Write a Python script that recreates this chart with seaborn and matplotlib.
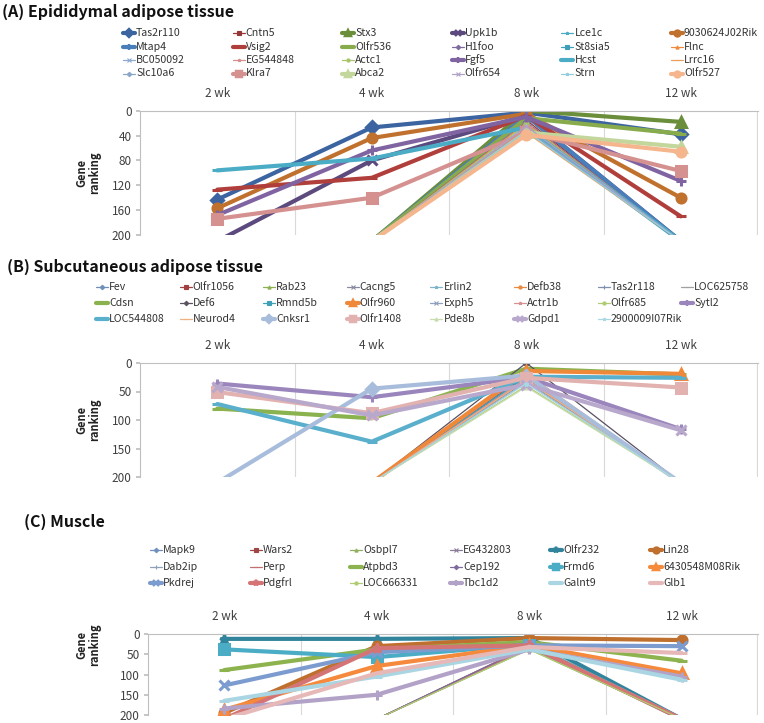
import numpy as np
import matplotlib
matplotlib.use("Agg")
import matplotlib.pyplot as plt
from matplotlib.lines import Line2D
import seaborn as sns

# -----------------------------
# Data (gene ranking; NR = not in the top 200, drawn off the bottom)
# -----------------------------
NR = 210
weeks = ["2 wk", "4 wk", "8 wk", "12 wk"]

a_genes = ["Tas2r110", "Cntn5", "Stx3", "Upk1b", "Lce1c", "9030624J02Rik",
           "Mtap4", "Vsig2", "Olfr536", "H1foo", "St8sia5", "Flnc",
           "BC050092", "EG544848", "Actc1", "Fgf5", "Hcst", "Lrrc16",
           "Slc10a6", "Klra7", "Abca2", "Olfr654", "Strn", "Olfr527"]
a_ranks = [[143, 27, 3, 38], [NR, NR, 15, NR], [NR, NR, 0, 18], [NR, 80, 8, NR],
           [NR, NR, 30, NR], [157, 44, 5, 140], [NR, NR, 8, NR], [127, 108, 8, 170],
           [NR, NR, 12, 37], [NR, NR, 18, NR], [NR, NR, 25, NR], [NR, NR, 20, NR],
           [NR, NR, 32, NR], [NR, NR, 28, NR], [NR, NR, 22, NR], [168, 64, 10, 113],
           [96, 77, 27, NR], [NR, NR, 35, NR], [NR, NR, 30, NR], [174, 140, 35, 97],
           [NR, NR, 35, 58], [NR, NR, 25, NR], [NR, NR, 33, NR], [NR, NR, 39, 66]]
a_colors = ["#3B64A0", "#953735", "#6B8E3A", "#5C4A7E", "#4BACC6", "#C0712D",
            "#4A7EBB", "#B03F3C", "#88AB4C", "#7F6A9E", "#3F9FB8", "#F08A3C",
            "#8DA9D0", "#D48F8D", "#A9C46A", "#8064A2", "#4BACC6", "#E8A060",
            "#8AA6C8", "#D49190", "#C3D69B", "#B0A2C8", "#93CDDD", "#F6B68D"]
a_thick = [1, 0, 1, 1, 0, 1, 1, 1, 1, 0, 0, 0, 0, 0, 0, 1, 1, 0, 0, 1, 1, 0, 0, 1]

b_genes = ["Fev", "Olfr1056", "Rab23", "Cacng5", "Erlin2", "Defb38", "Tas2r118", "LOC625758",
           "Cdsn", "Def6", "Rmnd5b", "Olfr960", "Exph5", "Actr1b", "Olfr685", "Sytl2",
           "LOC544808", "Neurod4", "Cnksr1", "Olfr1408", "Pde8b", "Gdpd1", "2900009I07Rik"]
b_ranks = [[NR, NR, 28, NR], [NR, NR, 22, NR], [NR, NR, 30, NR], [NR, NR, 20, NR],
           [NR, NR, 25, NR], [NR, NR, 18, NR], [NR, NR, 32, NR], [NR, NR, 30, NR],
           [80, 97, 10, 20], [NR, NR, 0, NR], [NR, NR, 24, NR], [NR, NR, 14, 19],
           [NR, NR, 35, NR], [NR, NR, 28, NR], [NR, NR, 40, NR], [36, 60, 25, 116],
           [72, 138, 24, 26], [NR, NR, 30, NR], [NR, 45, 22, NR], [51, 88, 26, 43],
           [NR, NR, 42, NR], [42, 92, 38, 118], [NR, NR, 36, NR]]
b_colors = ["#6F8FB8", "#A04040", "#8DB050", "#8A8AA0", "#7FB5C8", "#E88A40", "#7F8FB0", "#A0A0A0",
            "#8AB34F", "#5A5060", "#3FA0B8", "#F0883A", "#8FA0C0", "#D89090", "#B0CC70", "#9A86BC",
            "#5AB0CC", "#F0B080", "#A8BCDC", "#E2B2B0", "#C8DCB0", "#B8A8CC", "#A8D8E4"]
b_thick = [0, 0, 0, 0, 0, 0, 0, 0, 1, 0, 0, 1, 0, 0, 0, 1, 1, 0, 1, 1, 0, 1, 0]

c_genes = ["Mapk9", "Wars2", "Osbpl7", "EG432803", "Olfr232", "Lin28",
           "Dab2ip", "Perp", "Atpbd3", "Cep192", "Frmd6", "6430548M08Rik",
           "Pkdrej", "Pdgfrl", "LOC666331", "Tbc1d2", "Galnt9", "Glb1"]
c_ranks = [[NR, NR, 36, NR], [NR, NR, 30, NR], [NR, NR, 38, NR], [NR, NR, 32, NR],
           [12, 12, 10, NR], [195, 30, 10, 15], [NR, NR, 36, NR], [NR, NR, 34, NR],
           [89, 38, 20, 66], [NR, NR, 30, NR], [38, 57, 26, NR], [187, 79, 28, 97],
           [127, 45, 28, 30], [NR, 35, 28, NR], [NR, NR, 38, NR], [184, 150, 38, 105],
           [165, 105, 38, 113], [NR, 97, 32, 47]]
c_colors = ["#6F8FBF", "#A04444", "#90B060", "#8A7F9A", "#31849B", "#C0702E",
            "#8FA0B8", "#C07070", "#8DB34F", "#7F6A9E", "#4BACC6", "#F58A3C",
            "#7C9CCF", "#D47474", "#B0CC70", "#B3A2C7", "#A9D6E2", "#E6B9B8"]
c_thick = [0, 0, 0, 0, 1, 1, 0, 0, 1, 0, 1, 1, 1, 1, 0, 1, 1, 1]

excel_markers = ["D", "s", "^", "x", "*", "o", "+", "_", "_"]

# -----------------------------
# Figure setup
# -----------------------------
W, H = 764, 723
sns.set_theme(style="white")
plt.rcParams["font.family"] = ["Noto Sans CJK KR", "DejaVu Sans"]
fig = plt.figure(figsize=(W / 100, H / 100), dpi=100)
TXT = "#404040"
AXC = "#BFBFBF"


def fx(x):
    return x / W


def fy(y):
    return 1 - y / H


def style_of(i, thick):
    m = excel_markers[i % len(excel_markers)]
    if thick:
        return dict(lw=3.0, marker=m, ms=6.5, mew=2.2)
    return dict(lw=0.9, marker=m, ms=3.5, mew=1.0)


def draw_panel(box, genes, ranks, colors, thick, yticks):
    left, top, right, bottom = box
    ax = fig.add_axes([fx(left), fy(bottom), fx(right - left), (bottom - top) / H])
    xpos = np.arange(len(weeks))
    for i, (vals, col, t) in enumerate(zip(ranks, colors, thick)):
        st = style_of(i, t)
        # only put markers on points that are inside the ranking range
        shown = [k for k, v in enumerate(vals) if v <= 200]
        sns.lineplot(x=xpos, y=vals, ax=ax, color=col, linewidth=st["lw"],
                     marker=st["marker"], markersize=st["ms"], markeredgewidth=st["mew"],
                     markeredgecolor=col, markerfacecolor=col, markevery=shown,
                     sort=False, legend=False)
    ax.set_xlim(-0.5, len(weeks) - 0.5)
    ax.set_ylim(200, 0)
    ax.xaxis.tick_top()
    ax.set_xticks(xpos, weeks)
    ax.set_xticks(xpos[:-1] + 0.5, minor=True)
    ax.set_yticks(yticks)
    ax.tick_params(axis="x", which="both", length=0, pad=8, labelsize=8.5, labelcolor=TXT)
    ax.tick_params(axis="y", length=3, color=AXC, direction="out", left=True,
                   labelsize=8.5, labelcolor=TXT, pad=3)
    ax.grid(axis="x", which="minor", color="#D9D9D9", lw=0.8)
    ax.axvline(len(weeks) - 0.5, color="#D9D9D9", lw=1.6)
    for s in ["bottom", "right"]:
        ax.spines[s].set_visible(False)
    for s in ["top", "left"]:
        ax.spines[s].set_color(AXC)
        ax.spines[s].set_linewidth(0.8)
    ax.set_xlabel("")
    ax.set_ylabel("")
    return ax


def draw_legend(genes, colors, thick, x0, dx, y0, dy, ncol):
    for i, (g, col, t) in enumerate(zip(genes, colors, thick)):
        r, c = divmod(i, ncol)
        cx = x0 + c * dx
        cy = y0 + r * dy
        st = style_of(i, t)
        fig.add_artist(Line2D([fx(cx - 6), fx(cx + 6)], [fy(cy), fy(cy)], color=col,
                              lw=st["lw"], transform=fig.transFigure))
        fig.add_artist(Line2D([fx(cx)], [fy(cy)], color=col, marker=st["marker"],
                              ms=st["ms"] * 0.65, mew=st["mew"] * 0.8, mec=col, mfc=col,
                              transform=fig.transFigure))
        fig.text(fx(cx + 7), fy(cy), g, fontsize=7.6, color="#333333",
                 va="center", ha="left")


def ylab(x, y):
    fig.text(fx(x), fy(y), "Gene\nranking", rotation=90, fontsize=8,
             fontweight="bold", ha="center", va="center", multialignment="center",
             color="#222222", linespacing=1.0)


# -----------------------------
# (A) Epididymal adipose tissue
# -----------------------------
fig.text(fx(2), fy(12), "(A) Epididymal adipose tissue", fontsize=11.5,
         fontweight="bold", va="center", color="#111111")
draw_legend(a_genes, a_colors, a_thick, 129, 109.6, 33, 13.5, 6)
draw_panel((140, 110.7, 758, 235), a_genes, a_ranks, a_colors, a_thick, range(0, 201, 40))
ylab(88, 173)

# -----------------------------
# (B) Subcutaneous adipose tissue
# -----------------------------
fig.text(fx(7), fy(267), "(B) Subcutaneous adipose tissue", fontsize=11.5,
         fontweight="bold", va="center", color="#111111")
draw_legend(b_genes, b_colors, b_thick, 102, 83.6, 287, 16, 8)
draw_panel((140, 363, 758, 477), b_genes, b_ranks, b_colors, b_thick, range(0, 201, 50))
ylab(88, 420)

# -----------------------------
# (C) Muscle
# -----------------------------
fig.text(fx(24), fy(522), "(C) Muscle", fontsize=11.5,
         fontweight="bold", va="center", color="#111111")
draw_legend(c_genes, c_colors, c_thick, 156, 100, 550, 16.5, 6)
draw_panel((148, 634, 758, 715), c_genes, c_ranks, c_colors, c_thick, range(0, 201, 50))
ylab(88, 645)

fig.savefig("out.png", dpi=100)
